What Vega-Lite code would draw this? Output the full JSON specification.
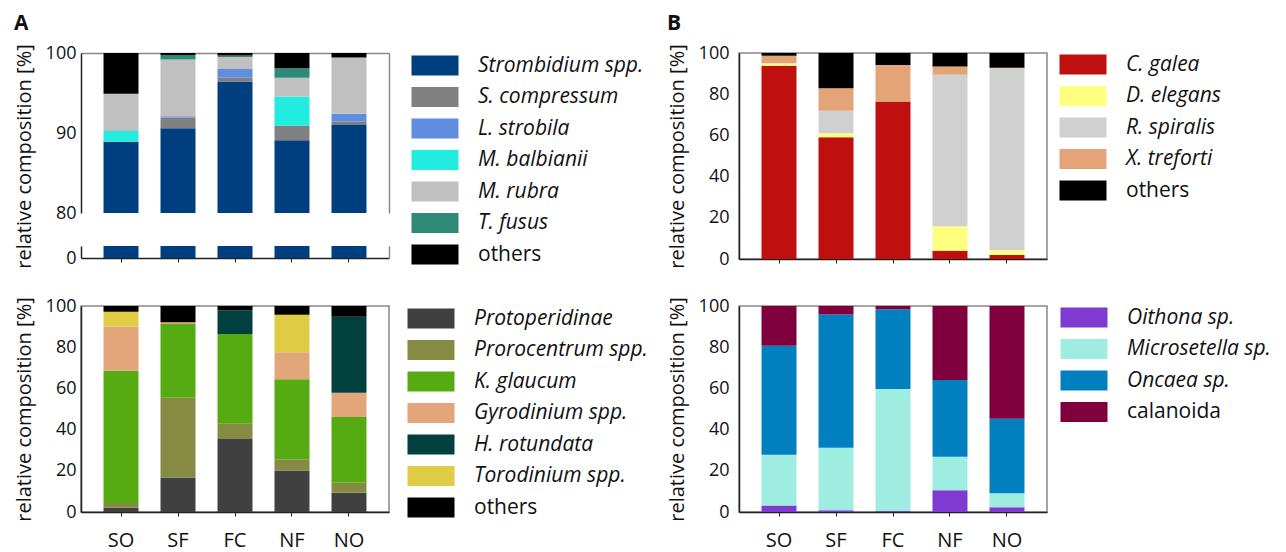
{
  "$schema": "https://vega.github.io/schema/vega-lite/v6.json",
  "padding": {"left": 13, "top": 12, "right": 5, "bottom": 5},
  "background": "white",
  "datasets": {
    "cil": [
      {"site": "SO", "taxon": "Strombidium spp.", "o": 1, "value": 88.9},
      {"site": "SO", "taxon": "M. balbianii", "o": 4, "value": 1.35},
      {"site": "SO", "taxon": "M. rubra", "o": 5, "value": 4.65},
      {"site": "SO", "taxon": "others", "o": 7, "value": 5.1},
      {"site": "SF", "taxon": "Strombidium spp.", "o": 1, "value": 90.6},
      {"site": "SF", "taxon": "S. compressum", "o": 2, "value": 1.35},
      {"site": "SF", "taxon": "L. strobila", "o": 3, "value": 0.15},
      {"site": "SF", "taxon": "M. rubra", "o": 5, "value": 7.1},
      {"site": "SF", "taxon": "T. fusus", "o": 6, "value": 0.55},
      {"site": "SF", "taxon": "others", "o": 7, "value": 0.25},
      {"site": "FC", "taxon": "Strombidium spp.", "o": 1, "value": 96.45},
      {"site": "FC", "taxon": "S. compressum", "o": 2, "value": 0.45},
      {"site": "FC", "taxon": "L. strobila", "o": 3, "value": 1.1},
      {"site": "FC", "taxon": "M. rubra", "o": 5, "value": 1.5},
      {"site": "FC", "taxon": "T. fusus", "o": 6, "value": 0.2},
      {"site": "FC", "taxon": "others", "o": 7, "value": 0.3},
      {"site": "NF", "taxon": "Strombidium spp.", "o": 1, "value": 89.1},
      {"site": "NF", "taxon": "S. compressum", "o": 2, "value": 1.8},
      {"site": "NF", "taxon": "M. balbianii", "o": 4, "value": 3.65},
      {"site": "NF", "taxon": "M. rubra", "o": 5, "value": 2.35},
      {"site": "NF", "taxon": "T. fusus", "o": 6, "value": 1.2},
      {"site": "NF", "taxon": "others", "o": 7, "value": 1.9},
      {"site": "NO", "taxon": "Strombidium spp.", "o": 1, "value": 91.0},
      {"site": "NO", "taxon": "S. compressum", "o": 2, "value": 0.4},
      {"site": "NO", "taxon": "L. strobila", "o": 3, "value": 1.0},
      {"site": "NO", "taxon": "M. rubra", "o": 5, "value": 7.05},
      {"site": "NO", "taxon": "others", "o": 7, "value": 0.55}
    ],
    "b1": [
      {"site": "SO", "taxon": "C. galea", "o": 1, "value": 93.8},
      {"site": "SO", "taxon": "D. elegans", "o": 2, "value": 1.2},
      {"site": "SO", "taxon": "X. treforti", "o": 4, "value": 3.7},
      {"site": "SO", "taxon": "others", "o": 5, "value": 1.3},
      {"site": "SF", "taxon": "C. galea", "o": 1, "value": 59.1},
      {"site": "SF", "taxon": "D. elegans", "o": 2, "value": 1.9},
      {"site": "SF", "taxon": "R. spiralis", "o": 3, "value": 11.0},
      {"site": "SF", "taxon": "X. treforti", "o": 4, "value": 10.9},
      {"site": "SF", "taxon": "others", "o": 5, "value": 17.1},
      {"site": "FC", "taxon": "C. galea", "o": 1, "value": 76.4},
      {"site": "FC", "taxon": "X. treforti", "o": 4, "value": 17.8},
      {"site": "FC", "taxon": "others", "o": 5, "value": 5.8},
      {"site": "NF", "taxon": "C. galea", "o": 1, "value": 4.0},
      {"site": "NF", "taxon": "D. elegans", "o": 2, "value": 11.9},
      {"site": "NF", "taxon": "R. spiralis", "o": 3, "value": 73.6},
      {"site": "NF", "taxon": "X. treforti", "o": 4, "value": 4.0},
      {"site": "NF", "taxon": "others", "o": 5, "value": 6.5},
      {"site": "NO", "taxon": "C. galea", "o": 1, "value": 1.9},
      {"site": "NO", "taxon": "D. elegans", "o": 2, "value": 2.3},
      {"site": "NO", "taxon": "R. spiralis", "o": 3, "value": 88.4},
      {"site": "NO", "taxon": "X. treforti", "o": 4, "value": 0.2},
      {"site": "NO", "taxon": "others", "o": 5, "value": 7.2}
    ],
    "dino": [
      {"site": "SO", "taxon": "Protoperidinae", "o": 1, "value": 2.1},
      {"site": "SO", "taxon": "Prorocentrum spp.", "o": 2, "value": 2.3},
      {"site": "SO", "taxon": "K. glaucum", "o": 3, "value": 64.2},
      {"site": "SO", "taxon": "Gyrodinium spp.", "o": 4, "value": 21.5},
      {"site": "SO", "taxon": "Torodinium spp.", "o": 6, "value": 7.1},
      {"site": "SO", "taxon": "others", "o": 7, "value": 2.8},
      {"site": "SF", "taxon": "Protoperidinae", "o": 1, "value": 16.7},
      {"site": "SF", "taxon": "Prorocentrum spp.", "o": 2, "value": 38.8},
      {"site": "SF", "taxon": "K. glaucum", "o": 3, "value": 35.8},
      {"site": "SF", "taxon": "Gyrodinium spp.", "o": 4, "value": 0.8},
      {"site": "SF", "taxon": "others", "o": 7, "value": 7.9},
      {"site": "FC", "taxon": "Protoperidinae", "o": 1, "value": 35.4},
      {"site": "FC", "taxon": "Prorocentrum spp.", "o": 2, "value": 7.5},
      {"site": "FC", "taxon": "K. glaucum", "o": 3, "value": 43.5},
      {"site": "FC", "taxon": "H. rotundata", "o": 5, "value": 11.5},
      {"site": "FC", "taxon": "others", "o": 7, "value": 2.1},
      {"site": "NF", "taxon": "Protoperidinae", "o": 1, "value": 20.2},
      {"site": "NF", "taxon": "Prorocentrum spp.", "o": 2, "value": 5.4},
      {"site": "NF", "taxon": "K. glaucum", "o": 3, "value": 38.8},
      {"site": "NF", "taxon": "Gyrodinium spp.", "o": 4, "value": 13.1},
      {"site": "NF", "taxon": "Torodinium spp.", "o": 6, "value": 18.3},
      {"site": "NF", "taxon": "others", "o": 7, "value": 4.2},
      {"site": "NO", "taxon": "Protoperidinae", "o": 1, "value": 9.4},
      {"site": "NO", "taxon": "Prorocentrum spp.", "o": 2, "value": 4.8},
      {"site": "NO", "taxon": "K. glaucum", "o": 3, "value": 31.9},
      {"site": "NO", "taxon": "Gyrodinium spp.", "o": 4, "value": 11.8},
      {"site": "NO", "taxon": "H. rotundata", "o": 5, "value": 36.9},
      {"site": "NO", "taxon": "others", "o": 7, "value": 5.2}
    ],
    "cop": [
      {"site": "SO", "taxon": "Oithona sp.", "o": 1, "value": 3.2},
      {"site": "SO", "taxon": "Microsetella sp.", "o": 2, "value": 24.6},
      {"site": "SO", "taxon": "Oncaea sp.", "o": 3, "value": 52.9},
      {"site": "SO", "taxon": "calanoida", "o": 4, "value": 19.3},
      {"site": "SF", "taxon": "Oithona sp.", "o": 1, "value": 0.8},
      {"site": "SF", "taxon": "Microsetella sp.", "o": 2, "value": 30.4},
      {"site": "SF", "taxon": "Oncaea sp.", "o": 3, "value": 64.7},
      {"site": "SF", "taxon": "calanoida", "o": 4, "value": 4.1},
      {"site": "FC", "taxon": "Oithona sp.", "o": 1, "value": 0.5},
      {"site": "FC", "taxon": "Microsetella sp.", "o": 2, "value": 59.2},
      {"site": "FC", "taxon": "Oncaea sp.", "o": 3, "value": 38.7},
      {"site": "FC", "taxon": "calanoida", "o": 4, "value": 1.6},
      {"site": "NF", "taxon": "Oithona sp.", "o": 1, "value": 10.6},
      {"site": "NF", "taxon": "Microsetella sp.", "o": 2, "value": 16.2},
      {"site": "NF", "taxon": "Oncaea sp.", "o": 3, "value": 37.3},
      {"site": "NF", "taxon": "calanoida", "o": 4, "value": 35.9},
      {"site": "NO", "taxon": "Oithona sp.", "o": 1, "value": 2.3},
      {"site": "NO", "taxon": "Microsetella sp.", "o": 2, "value": 6.8},
      {"site": "NO", "taxon": "Oncaea sp.", "o": 3, "value": 36.2},
      {"site": "NO", "taxon": "calanoida", "o": 4, "value": 54.7}
    ]
  },
  "spacing": 27,
  "resolve": {"scale": {"color": "independent"}, "legend": {"color": "independent"}},
  "vconcat": [
    {
      "hconcat": [
        {
          "title": {"text": "A", "anchor": "start", "frame": "bounds", "fontSize": 21, "fontWeight": "bold", "offset": 10},
          "spacing": 33,
          "bounds": "flush",
          "resolve": {"scale": {"color": "shared"}},
          "vconcat": [
            {
              "width": 308, "height": 160,
              "view": {"stroke": null},
              "data": {"name": "cil"},
              "resolve": {"axis": {"x": "independent", "y": "independent"}},
              "layer": [
                {
                  "mark": {"type": "bar", "clip": true},
                  "encoding": {
                    "x": {"field": "site", "type": "nominal", "scale": {"domain": ["SO", "SF", "FC", "NF", "NO"], "paddingInner": 0.386, "paddingOuter": 0.395}, "axis": null},
                    "y": {"field": "value", "type": "quantitative", "stack": "zero", "scale": {"domain": [80, 100]}, "axis": {"values": [80, 90, 100], "title": "relative composition [%]", "titleY": 103, "labelPadding": 5}},
                    "color": {"field": "taxon", "type": "nominal", "scale": {"domain": ["Strombidium spp.", "S. compressum", "L. strobila", "M. balbianii", "M. rubra", "T. fusus", "others"], "range": ["#003f7f", "#808080", "#5f8ee0", "#22ebe0", "#c0c0c0", "#2e8a77", "#000000"]}, "legend": {"offset": 20, "padding": 2, "encode": {"labels": {"update": {"fontStyle": {"signal": "datum.value === 'others' ? 'normal' : 'italic'"}}}}}},
                    "order": {"field": "o"}
                  }
                },
                {
                  "mark": {"type": "bar", "clip": true, "opacity": 0},
                  "encoding": {
                    "x": {"field": "site", "type": "nominal", "axis": {"orient": "top", "labels": false, "ticks": false, "domainColor": "#888", "title": null}},
                    "y": {"field": "value", "type": "quantitative", "stack": "zero", "axis": {"orient": "right", "labels": false, "ticks": false, "domainColor": "#888", "title": null}}
                  }
                }
              ]
            },
            {
              "width": 308, "height": 12,
              "view": {"stroke": null},
              "data": {"name": "cil"},
              "resolve": {"axis": {"x": "independent", "y": "independent"}},
              "layer": [
                {
                  "mark": {"type": "bar", "clip": true},
                  "encoding": {
                    "x": {"field": "site", "type": "nominal", "scale": {"domain": ["SO", "SF", "FC", "NF", "NO"], "paddingInner": 0.386, "paddingOuter": 0.395}, "axis": {"labels": false, "ticks": true, "tickSize": 4, "title": null}},
                    "y": {"field": "value", "type": "quantitative", "stack": "zero", "scale": {"domain": [0, 1.5]}, "axis": {"values": [0], "title": null, "labelPadding": 5}},
                    "color": {"field": "taxon", "type": "nominal", "legend": {"offset": 20, "padding": 2, "encode": {"labels": {"update": {"fontStyle": {"signal": "datum.value === 'others' ? 'normal' : 'italic'"}}}}}},
                    "order": {"field": "o"}
                  }
                },
                {
                  "mark": {"type": "bar", "clip": true, "opacity": 0},
                  "encoding": {
                    "x": {"field": "site", "type": "nominal", "axis": null},
                    "y": {"field": "value", "type": "quantitative", "stack": "zero", "axis": {"orient": "right", "labels": false, "ticks": false, "domainColor": "#888", "title": null}}
                  }
                }
              ]
            }
          ]
        },
        {
          "title": {"text": "B", "anchor": "start", "frame": "bounds", "fontSize": 21, "fontWeight": "bold", "offset": 10},
          "width": 308, "height": 206,
          "data": {"name": "b1"},
          "mark": "bar",
          "encoding": {
            "x": {"field": "site", "type": "nominal", "scale": {"domain": ["SO", "SF", "FC", "NF", "NO"], "paddingInner": 0.386, "paddingOuter": 0.395}, "axis": {"labels": false, "ticks": true, "tickSize": 4, "title": null}},
            "y": {"field": "value", "type": "quantitative", "stack": "zero", "scale": {"domain": [0, 100]}, "axis": {"values": [0, 20, 40, 60, 80, 100], "title": "relative composition [%]", "labelPadding": 10}},
            "color": {"field": "taxon", "type": "nominal", "scale": {"domain": ["C. galea", "D. elegans", "R. spiralis", "X. treforti", "others"], "range": ["#c00f0f", "#ffff80", "#d0d0d0", "#e3a578", "#000000"]}, "legend": {"offset": 11, "padding": 1, "encode": {"labels": {"update": {"fontStyle": {"signal": "datum.value === 'others' ? 'normal' : 'italic'"}}}}}},
            "order": {"field": "o"}
          }
        }
      ],
      "spacing": 20,
      "resolve": {"scale": {"color": "independent"}, "legend": {"color": "independent"}}
    },
    {
      "hconcat": [
        {
          "width": 308, "height": 206,
          "data": {"name": "dino"},
          "mark": {"type": "bar"},
          "encoding": {
            "x": {"field": "site", "type": "nominal", "scale": {"domain": ["SO", "SF", "FC", "NF", "NO"], "paddingInner": 0.386, "paddingOuter": 0.395}, "axis": {"labels": true, "ticks": true, "tickSize": 4, "labelPadding": 14, "labelFontSize": 20, "title": null, "labelAngle": 0}},
            "y": {"field": "value", "type": "quantitative", "stack": "zero", "scale": {"domain": [0, 100]}, "axis": {"values": [0, 20, 40, 60, 80, 100], "title": "relative composition [%]", "labelPadding": 5}},
            "color": {"field": "taxon", "type": "nominal", "scale": {"domain": ["Protoperidinae", "Prorocentrum spp.", "K. glaucum", "Gyrodinium spp.", "H. rotundata", "Torodinium spp.", "others"], "range": ["#404040", "#868b44", "#57ab12", "#e3a57a", "#023f3f", "#e0cb44", "#000000"]}, "legend": {"offset": 16, "padding": 2, "encode": {"labels": {"update": {"fontStyle": {"signal": "datum.value === 'others' ? 'normal' : 'italic'"}}}}}},
            "order": {"field": "o"}
          }
        },
        {
          "width": 308, "height": 206,
          "data": {"name": "cop"},
          "mark": "bar",
          "encoding": {
            "x": {"field": "site", "type": "nominal", "scale": {"domain": ["SO", "SF", "FC", "NF", "NO"], "paddingInner": 0.386, "paddingOuter": 0.395}, "axis": {"labels": true, "ticks": true, "tickSize": 4, "labelPadding": 14, "labelFontSize": 20, "title": null, "labelAngle": 0}},
            "y": {"field": "value", "type": "quantitative", "stack": "zero", "scale": {"domain": [0, 100]}, "axis": {"values": [0, 20, 40, 60, 80, 100], "title": "relative composition [%]", "labelPadding": 10}},
            "color": {"field": "taxon", "type": "nominal", "scale": {"domain": ["Oithona sp.", "Microsetella sp.", "Oncaea sp.", "calanoida"], "range": ["#7f3ad2", "#9fede0", "#0080be", "#7f003c"]}, "legend": {"offset": 12, "padding": 1, "encode": {"labels": {"update": {"fontStyle": {"signal": "datum.value === 'calanoida' ? 'normal' : 'italic'"}}}}}},
            "order": {"field": "o"}
          }
        }
      ],
      "spacing": 15,
      "resolve": {"scale": {"color": "independent"}, "legend": {"color": "independent"}}
    }
  ],
  "config": {
    "font": "Open Sans",
    "view": {"stroke": "#888", "strokeWidth": 1.5},
    "axis": {"domainColor": "#222", "domainWidth": 1.5, "labelFontSize": 18, "labelColor": "#111", "titleFontSize": 20, "titleFontWeight": "normal", "titleColor": "#111", "titlePadding": 11, "grid": false, "ticks": false, "tickColor": "#222", "tickWidth": 1},
    "legend": {
      "title": null,
      "symbolType": "M-1,-1H3.7V1H-1Z",
      "symbolSize": 400,
      "symbolStrokeWidth": 0,
      "symbolOpacity": 1,
      "labelFontSize": 21,
      "labelColor": "#111",
      "labelOffset": 46,
      "rowPadding": 9.5,
      "labelLimit": 300
    },
    "title": {"color": "#111"}
  }
}
